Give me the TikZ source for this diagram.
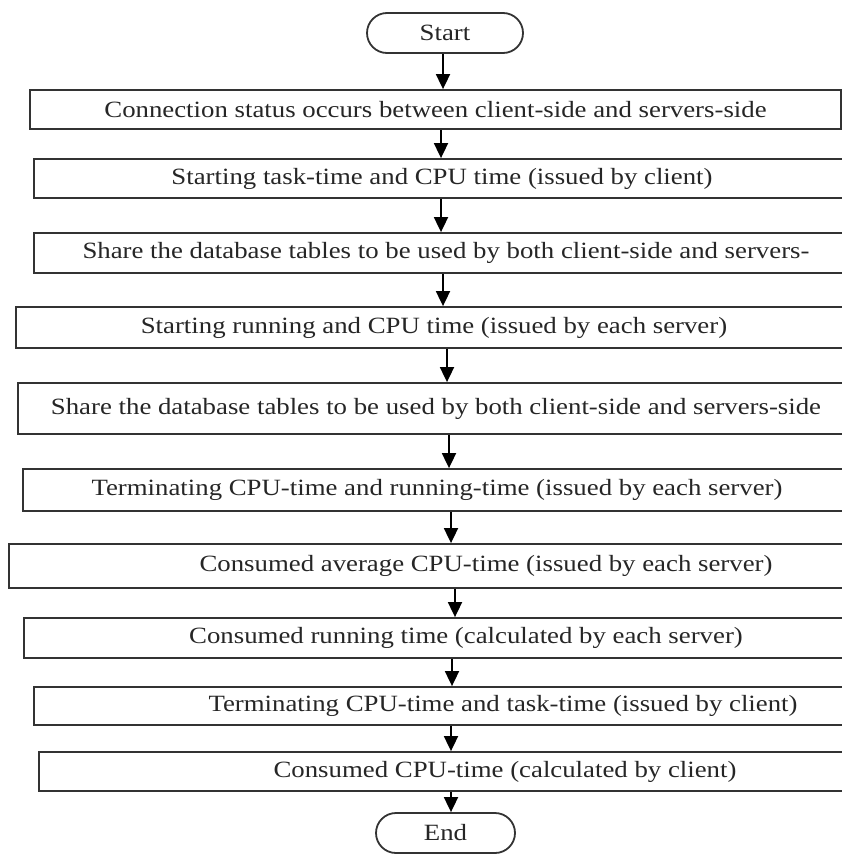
\documentclass[tikz,border=0pt]{standalone}
\usepackage{fontspec}
\setmainfont{Liberation Serif}[FakeStretch=1.15]
\usetikzlibrary{arrows.meta,shapes.misc}
\tikzset{
  stepbox/.style={draw=black!80, line width=1.8pt, fill=white, inner sep=0pt,
                  text=black!85, font=\fontsize{23.3}{26}\selectfont},
  term/.style={stepbox, rounded rectangle},
  flow/.style={line width=1.8pt, black, -{Triangle[width=14pt,length=15pt]}},
}
\begin{document}
\begin{tikzpicture}[x=1pt,y=-1pt]
\useasboundingbox (0,0) rectangle (842,854);

% terminals
\node[term, minimum width=156, minimum height=40] (start) at (445,33) {Start};
\node[term, minimum width=139, minimum height=40] (end) at (445.5,833) {End};

% process steps
\node[stepbox, minimum width=811, minimum height=39] (b1) at (435.5,109.5)
  {Connection status occurs between client-side and servers-side};
\node[stepbox, minimum width=816, minimum height=39] (b2) at (442,178.5)
  {Starting task-time and CPU time (issued by client)};
\node[stepbox, minimum width=824, minimum height=40] (b3) at (446,253)
  {Share the database tables to be used by both client-side and servers-};
\node[stepbox, minimum width=836, minimum height=41] (b4) at (434,327.5)
  {Starting running and CPU time (issued by each server)};
\node[stepbox, minimum width=836, minimum height=51] (b5) at (436,408.5)
  {Share the database tables to be used by both client-side and servers-side};
\node[stepbox, minimum width=828, minimum height=42] (b6) at (437,490)
  {Terminating CPU-time and running-time (issued by each server)};
\node[stepbox, minimum width=954, minimum height=44] (b7) at (486,566)
  {Consumed average CPU-time (issued by each server)};
\node[stepbox, minimum width=884, minimum height=40] (b8) at (466,638)
  {Consumed running time (calculated by each server)};
\node[stepbox, minimum width=938, minimum height=38] (b9) at (503,706)
  {Terminating CPU-time and task-time (issued by client)};
\node[stepbox, minimum width=932, minimum height=39] (b10) at (505,771.5)
  {Consumed CPU-time (calculated by client)};

% columns along which the arrows run
\coordinate (c1) at (443,0);
\coordinate (c2) at (441,0);
\coordinate (c3) at (441,0);
\coordinate (c4) at (443,0);
\coordinate (c5) at (447,0);
\coordinate (c6) at (449,0);
\coordinate (c7) at (451,0);
\coordinate (c8) at (455,0);
\coordinate (c9) at (452,0);
\coordinate (c10) at (451,0);
\coordinate (c11) at (451,0);

% connectors
\draw[flow] (start.south -| c1) -- (b1.north -| c1);
\draw[flow] (b1.south -| c2) -- (b2.north -| c2);
\draw[flow] (b2.south -| c3) -- (b3.north -| c3);
\draw[flow] (b3.south -| c4) -- (b4.north -| c4);
\draw[flow] (b4.south -| c5) -- (b5.north -| c5);
\draw[flow] (b5.south -| c6) -- (b6.north -| c6);
\draw[flow] (b6.south -| c7) -- (b7.north -| c7);
\draw[flow] (b7.south -| c8) -- (b8.north -| c8);
\draw[flow] (b8.south -| c9) -- (b9.north -| c9);
\draw[flow] (b9.south -| c10) -- (b10.north -| c10);
\draw[flow] (b10.south -| c11) -- (end.north -| c11);
\end{tikzpicture}
\end{document}
